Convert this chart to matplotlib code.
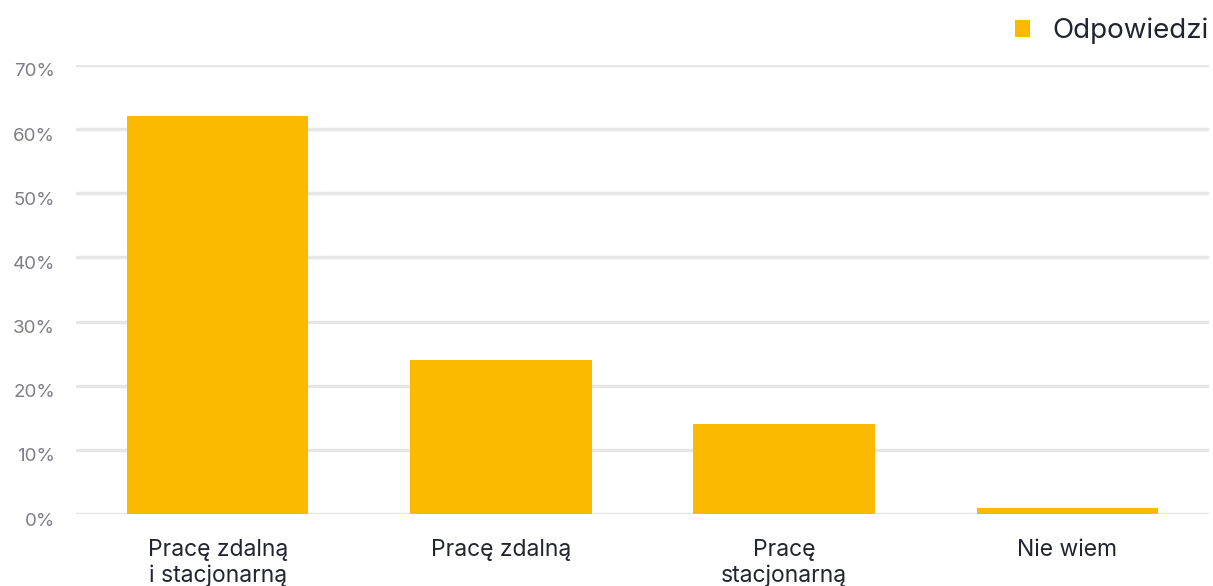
import matplotlib
matplotlib.use("Agg")
import matplotlib.pyplot as plt
import matplotlib.transforms as mtransforms
from matplotlib.patches import Patch

categories = ["Pracę zdalną\ni stacjonarną", "Pracę zdalną", "Pracę\nstacjonarną", "Nie wiem"]
values = [62, 24, 14, 1]
series_name = "Odpowiedzi"
y_ticks = [0, 10, 20, 30, 40, 50, 60, 70]

BAR = "#FBB900"
TEXT = "#22252f"
GRID = "#e6e6e6"
TICK = "#7d7e87"

plt.rcParams["font.family"] = ["Inter", "DejaVu Sans"]

fig = plt.figure(figsize=(12.13, 5.86), dpi=100)
ax = fig.add_axes([76 / 1213, 1 - 514 / 586, (1209 - 76) / 1213, (514 - 65) / 586])

x = list(range(len(categories)))
ax.bar(x, values, width=0.64, color=BAR, zorder=3)

ax.set_xlim(-0.5, len(categories) - 0.5)
ax.set_ylim(0, 70)
ax.set_yticks(y_ticks)
ax.set_yticklabels([f"{t}%" for t in y_ticks], color=TICK, fontsize=13.5,
                   va="center_baseline")
ax.set_xticks(x)
ax.set_xticklabels(categories, color=TEXT, fontsize=16.5, linespacing=1.2)

ax.grid(axis="y", color=GRID, linewidth=2.5, zorder=0)
ax.tick_params(axis="both", length=0)
ax.tick_params(axis="x", pad=18)
ax.tick_params(axis="y", pad=15)
for s in ax.spines.values():
    s.set_visible(False)

# nudge the percentage labels slightly below their gridlines
shift = mtransforms.ScaledTranslation(0, -5 / 100, fig.dpi_scale_trans)
for lbl in ax.get_yticklabels():
    lbl.set_transform(lbl.get_transform() + shift)

handle = Patch(facecolor=BAR, edgecolor="none")
fig.legend([handle], [series_name], loc="upper right",
           bbox_to_anchor=(1.008, 0.993), frameon=False, fontsize=20,
           labelcolor=TEXT, handlelength=0.55, handleheight=0.55,
           handletextpad=0.8, borderaxespad=0.1)

fig.savefig("out.png", dpi=100)
